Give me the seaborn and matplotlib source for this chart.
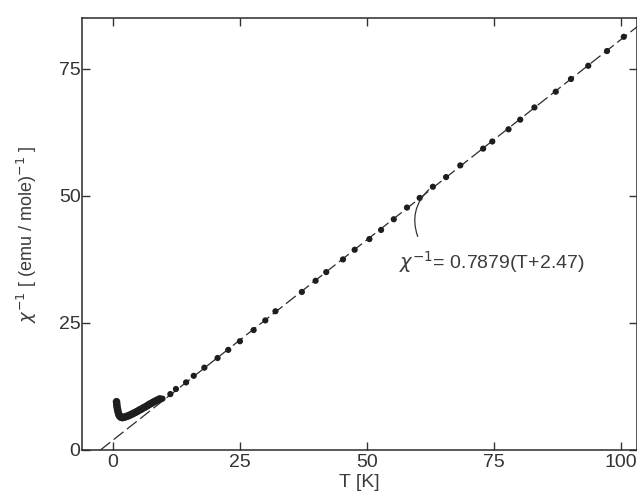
import matplotlib
matplotlib.use("Agg")
import matplotlib.pyplot as plt
import seaborn as sns
import numpy as np
import pandas as pd

# ---- data ----
T_low = [0.7, 0.75, 0.8, 0.9, 1.0, 1.15, 1.3, 1.5, 1.75, 2.0, 2.4, 2.8, 3.2, 3.6,
         4.0, 4.4, 4.8, 5.2, 5.6, 6.0, 6.4, 6.8, 7.2, 7.6, 8.0, 8.4, 8.8, 9.2]
chi_low = [9.5, 9.0, 8.5, 8.0, 7.5, 7.0, 6.7, 6.5, 6.4, 6.4, 6.5, 6.65, 6.8, 7.0,
           7.2, 7.4, 7.6, 7.85, 8.05, 8.3, 8.5, 8.75, 9.0, 9.2, 9.45, 9.65, 9.85, 10.05]

T_high = [9.75, 11.3, 12.4, 14.4, 15.9, 18.0, 20.6, 22.7, 25.0, 27.7, 30.0, 32.0,
          37.2, 39.9, 42.0, 45.3, 47.6, 50.5, 52.8, 55.3, 57.9, 60.4, 63.0, 65.6,
          68.4, 72.9, 74.7, 77.9, 80.2, 83.0, 87.2, 90.2, 93.6, 97.3, 100.6, 104.1]
chi_high = [10.1, 11.0, 12.0, 13.3, 14.6, 16.2, 18.1, 19.7, 21.4, 23.6, 25.5, 27.3,
            31.1, 33.3, 35.0, 37.5, 39.4, 41.5, 43.3, 45.4, 47.7, 49.6, 51.8, 53.7,
            56.0, 59.3, 60.7, 63.1, 65.0, 67.4, 70.5, 73.0, 75.6, 78.5, 81.3, 84.0]

fit_slope = 0.7879
fit_theta = 2.47
fit_T = [-fit_theta, 106.0]
fit_chi = [fit_slope * (t + fit_theta) for t in fit_T]

x_ticks = [0, 25, 50, 75, 100]
y_ticks = [0, 25, 50, 75]

# ---- styling ----
sns.set_theme(style="ticks")
plt.rcParams['font.family'] = ['Liberation Sans', 'DejaVu Sans']
plt.rcParams['mathtext.fontset'] = 'dejavusans'
ink = '#1e1e1e'
txt = '#3c3c3c'

fig = plt.figure(figsize=(6.37, 4.99), dpi=100)
ax = fig.add_axes([82/637, 49/499, (637-82)/637, (450-18)/499])

df_low = pd.DataFrame({'T': T_low, 'chi': chi_low})
df_high = pd.DataFrame({'T': T_high, 'chi': chi_high})
df_fit = pd.DataFrame({'T': fit_T, 'chi': fit_chi})

sns.lineplot(data=df_fit, x='T', y='chi', ax=ax, color='#2a2a2a', lw=0.9,
             dashes=False, linestyle=(0, (10, 3.5)), zorder=1)
sns.scatterplot(data=df_low, x='T', y='chi', ax=ax, color=ink, s=30,
                edgecolor='none', zorder=3)
sns.scatterplot(data=df_high, x='T', y='chi', ax=ax, color=ink, s=20,
                edgecolor='none', zorder=3)

ax.set_xlim(-6.1, 103.2)
ax.set_ylim(0, 85)
ax.set_xticks(x_ticks)
ax.set_yticks(y_ticks)
ax.set_xticklabels([str(v) for v in x_ticks], color=txt, fontsize=14)
ax.set_yticklabels([str(v) for v in y_ticks], color=txt, fontsize=14)
ax.tick_params(direction='in', length=6, width=1, colors='#333333',
               top=True, right=True, pad=3)
ax.tick_params(axis='y', pad=1)
for s in ax.spines.values():
    s.set_color('#2a2a2a')
    s.set_linewidth(1.1)

ax.set_xlabel('T [K]', fontsize=14, color=txt, labelpad=2)
ax.set_ylabel(r'$\chi^{-1}$ [ (emu / mole)$^{-1}$ ]', fontsize=13, color=txt, labelpad=14)

ax.text(56.3, 37.0, r'$\chi^{-1}$= 0.7879(T+2.47)', fontsize=14, color=txt,
        va='center', ha='left')
ax.annotate('', xy=(62.6, 51.6), xytext=(60.2, 41.5),
            arrowprops=dict(arrowstyle='-', color='#333333', lw=0.9,
                            connectionstyle='arc3,rad=-0.35'))

fig.savefig('out.png', dpi=100)
